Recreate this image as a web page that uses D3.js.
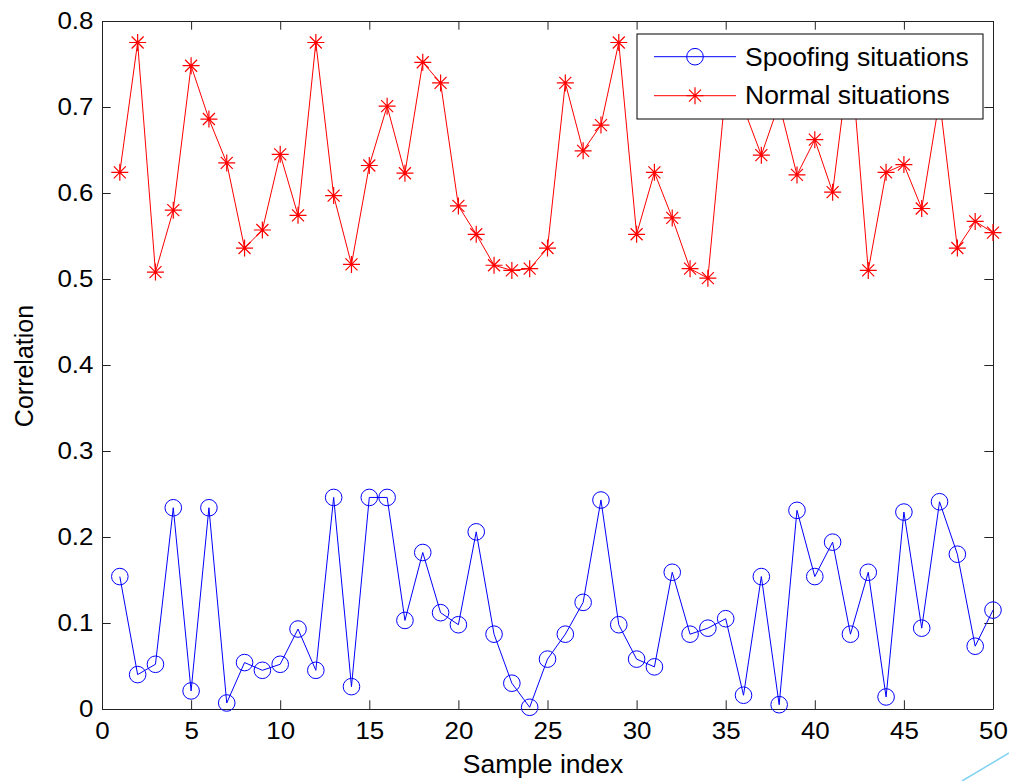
<!DOCTYPE html>
<html>
<head>
<meta charset="utf-8">
<script src="https://cdn.jsdelivr.net/npm/d3@7"></script>
<style>
  body { margin: 0; background: #fff; }
  text { font-family: "Liberation Sans", Arial, sans-serif; fill: #000; }
</style>
</head>
<body>
<svg id="chart" width="1009" height="781"></svg>
<script>
// values
var spoofing = [0.154, 0.040, 0.052, 0.234, 0.021, 0.234, 0.007, 0.054, 0.045, 0.052,
                0.093, 0.045, 0.246, 0.026, 0.246, 0.246, 0.103, 0.182, 0.112, 0.098,
                0.206, 0.087, 0.030, 0.002, 0.058, 0.087, 0.124, 0.243, 0.098, 0.058,
                0.049, 0.159, 0.087, 0.094, 0.105, 0.016, 0.154, 0.005, 0.231, 0.154,
                0.194, 0.087, 0.159, 0.014, 0.229, 0.094, 0.241, 0.180, 0.073, 0.115];
var normal = [0.624, 0.775, 0.508, 0.580, 0.748, 0.686, 0.635, 0.536, 0.557, 0.645,
              0.574, 0.775, 0.597, 0.517, 0.632, 0.701, 0.623, 0.752, 0.728, 0.585,
              0.552, 0.516, 0.510, 0.512, 0.536, 0.728, 0.649, 0.679, 0.775, 0.552,
              0.624, 0.571, 0.512, 0.501, 0.721, 0.699, 0.644, 0.704, 0.621, 0.662,
              0.601, 0.766, 0.510, 0.624, 0.633, 0.582, 0.709, 0.536, 0.567, 0.554];
var xTicks = [0, 5, 10, 15, 20, 25, 30, 35, 40, 45, 50];
var yTicks = [0, 0.1, 0.2, 0.3, 0.4, 0.5, 0.6, 0.7, 0.8];
var seriesNames = ["Spoofing situations", "Normal situations"];

(function () {
    var svg = d3.select("#chart");
    var plotLeft = 102, plotRight = 993, plotTop = 21, plotBottom = 709;
    var tickLen = 8.7, axisColor = "#222";

    var x = d3.scaleLinear().domain([0, 50]).range([plotLeft, plotRight]);
    var y = d3.scaleLinear().domain([0, 0.8]).range([plotBottom, plotTop]);

    function styleAxis(g) {
        g.attr("font-size", null).attr("font-family", null);
        g.selectAll("path, line").attr("stroke", axisColor).attr("stroke-width", 1);
        g.selectAll("text").attr("fill", "#000").style("font-size", "24px")
            .attr("transform", "scale(1.08,1)");
    }

    svg.append("g").attr("transform", "translate(0," + plotBottom + ")")
        .call(d3.axisBottom(x).tickValues(xTicks).tickFormat(d3.format("d"))
            .tickSizeInner(-tickLen).tickSizeOuter(0).tickPadding(13))
        .call(styleAxis);
    svg.append("g").attr("transform", "translate(0," + plotTop + ")")
        .call(d3.axisTop(x).tickValues(xTicks).tickFormat("")
            .tickSizeInner(-tickLen).tickSizeOuter(0))
        .call(styleAxis);
    svg.append("g").attr("transform", "translate(" + plotLeft + ",0)")
        .call(d3.axisLeft(y).tickValues(yTicks)
            .tickFormat(function (d) { return d === 0 ? "0" : d3.format(".1f")(d); })
            .tickSizeInner(-tickLen).tickSizeOuter(0).tickPadding(7.9))
        .call(styleAxis);
    svg.append("g").attr("transform", "translate(" + plotRight + ",0)")
        .call(d3.axisRight(y).tickValues(yTicks).tickFormat("")
            .tickSizeInner(-tickLen).tickSizeOuter(0))
        .call(styleAxis);

    // axis titles
    svg.append("text")
        .attr("transform", "translate(543,772.5) scale(1.06,1)")
        .attr("text-anchor", "middle").style("font-size", "25px")
        .text("Sample index");
    svg.append("text")
        .attr("transform", "translate(33,366) rotate(-90)")
        .attr("text-anchor", "middle").style("font-size", "25px")
        .text("Correlation");

    var line = d3.line()
        .x(function (d, i) { return x(i + 1); })
        .y(function (d) { return y(d); });

    var asterisk = "M-8.5,0H8.5M0,-8.5V8.5M-6,-6L6,6M-6,6L6,-6";

    // spoofing series
    svg.append("path").datum(spoofing)
        .attr("d", line).attr("fill", "none").attr("stroke", "#0000ff").attr("stroke-width", 1);
    svg.append("g").selectAll("circle").data(spoofing).join("circle")
        .attr("cx", function (d, i) { return x(i + 1); })
        .attr("cy", function (d) { return y(d); })
        .attr("r", 8.3)
        .attr("fill", "none").attr("stroke", "#0000ff").attr("stroke-width", 1);

    // normal series
    svg.append("path").datum(normal)
        .attr("d", line).attr("fill", "none").attr("stroke", "#ff0000").attr("stroke-width", 1);
    svg.append("g").selectAll("path").data(normal).join("path")
        .attr("transform", function (d, i) { return "translate(" + x(i + 1) + "," + y(d) + ")"; })
        .attr("d", asterisk)
        .attr("fill", "none").attr("stroke", "#ff0000").attr("stroke-width", 1.2);

    // legend
    var legend = svg.append("g");
    legend.append("rect")
        .attr("x", 637).attr("y", 34).attr("width", 346).attr("height", 85)
        .attr("fill", "#fff").attr("stroke", "#000").attr("stroke-width", 1);
    var rows = [
        { name: seriesNames[0], color: "#0000ff", ly: 56.7, ty: 66 },
        { name: seriesNames[1], color: "#ff0000", ly: 95.7, ty: 104 }
    ];
    rows.forEach(function (r, k) {
        legend.append("line")
            .attr("x1", 654).attr("x2", 736).attr("y1", r.ly).attr("y2", r.ly)
            .attr("stroke", r.color).attr("stroke-width", 1);
        if (k === 0) {
            legend.append("circle").attr("cx", 695).attr("cy", r.ly).attr("r", 8.3)
                .attr("fill", "none").attr("stroke", r.color).attr("stroke-width", 1);
        } else {
            legend.append("path").attr("transform", "translate(695," + r.ly + ")")
                .attr("d", asterisk).attr("fill", "none").attr("stroke", r.color).attr("stroke-width", 1.2);
        }
        legend.append("text")
            .attr("transform", "translate(745," + r.ty + ") scale(1.06,1)")
            .style("font-size", "25px")
            .text(r.name);
    });

    // stray light-blue stroke in the corner of the scan
    svg.append("line")
        .attr("x1", 962).attr("y1", 781).attr("x2", 1009).attr("y2", 753)
        .attr("stroke", "#7fd2f2").attr("stroke-width", 1.5);
})();
</script>
</body>
</html>
